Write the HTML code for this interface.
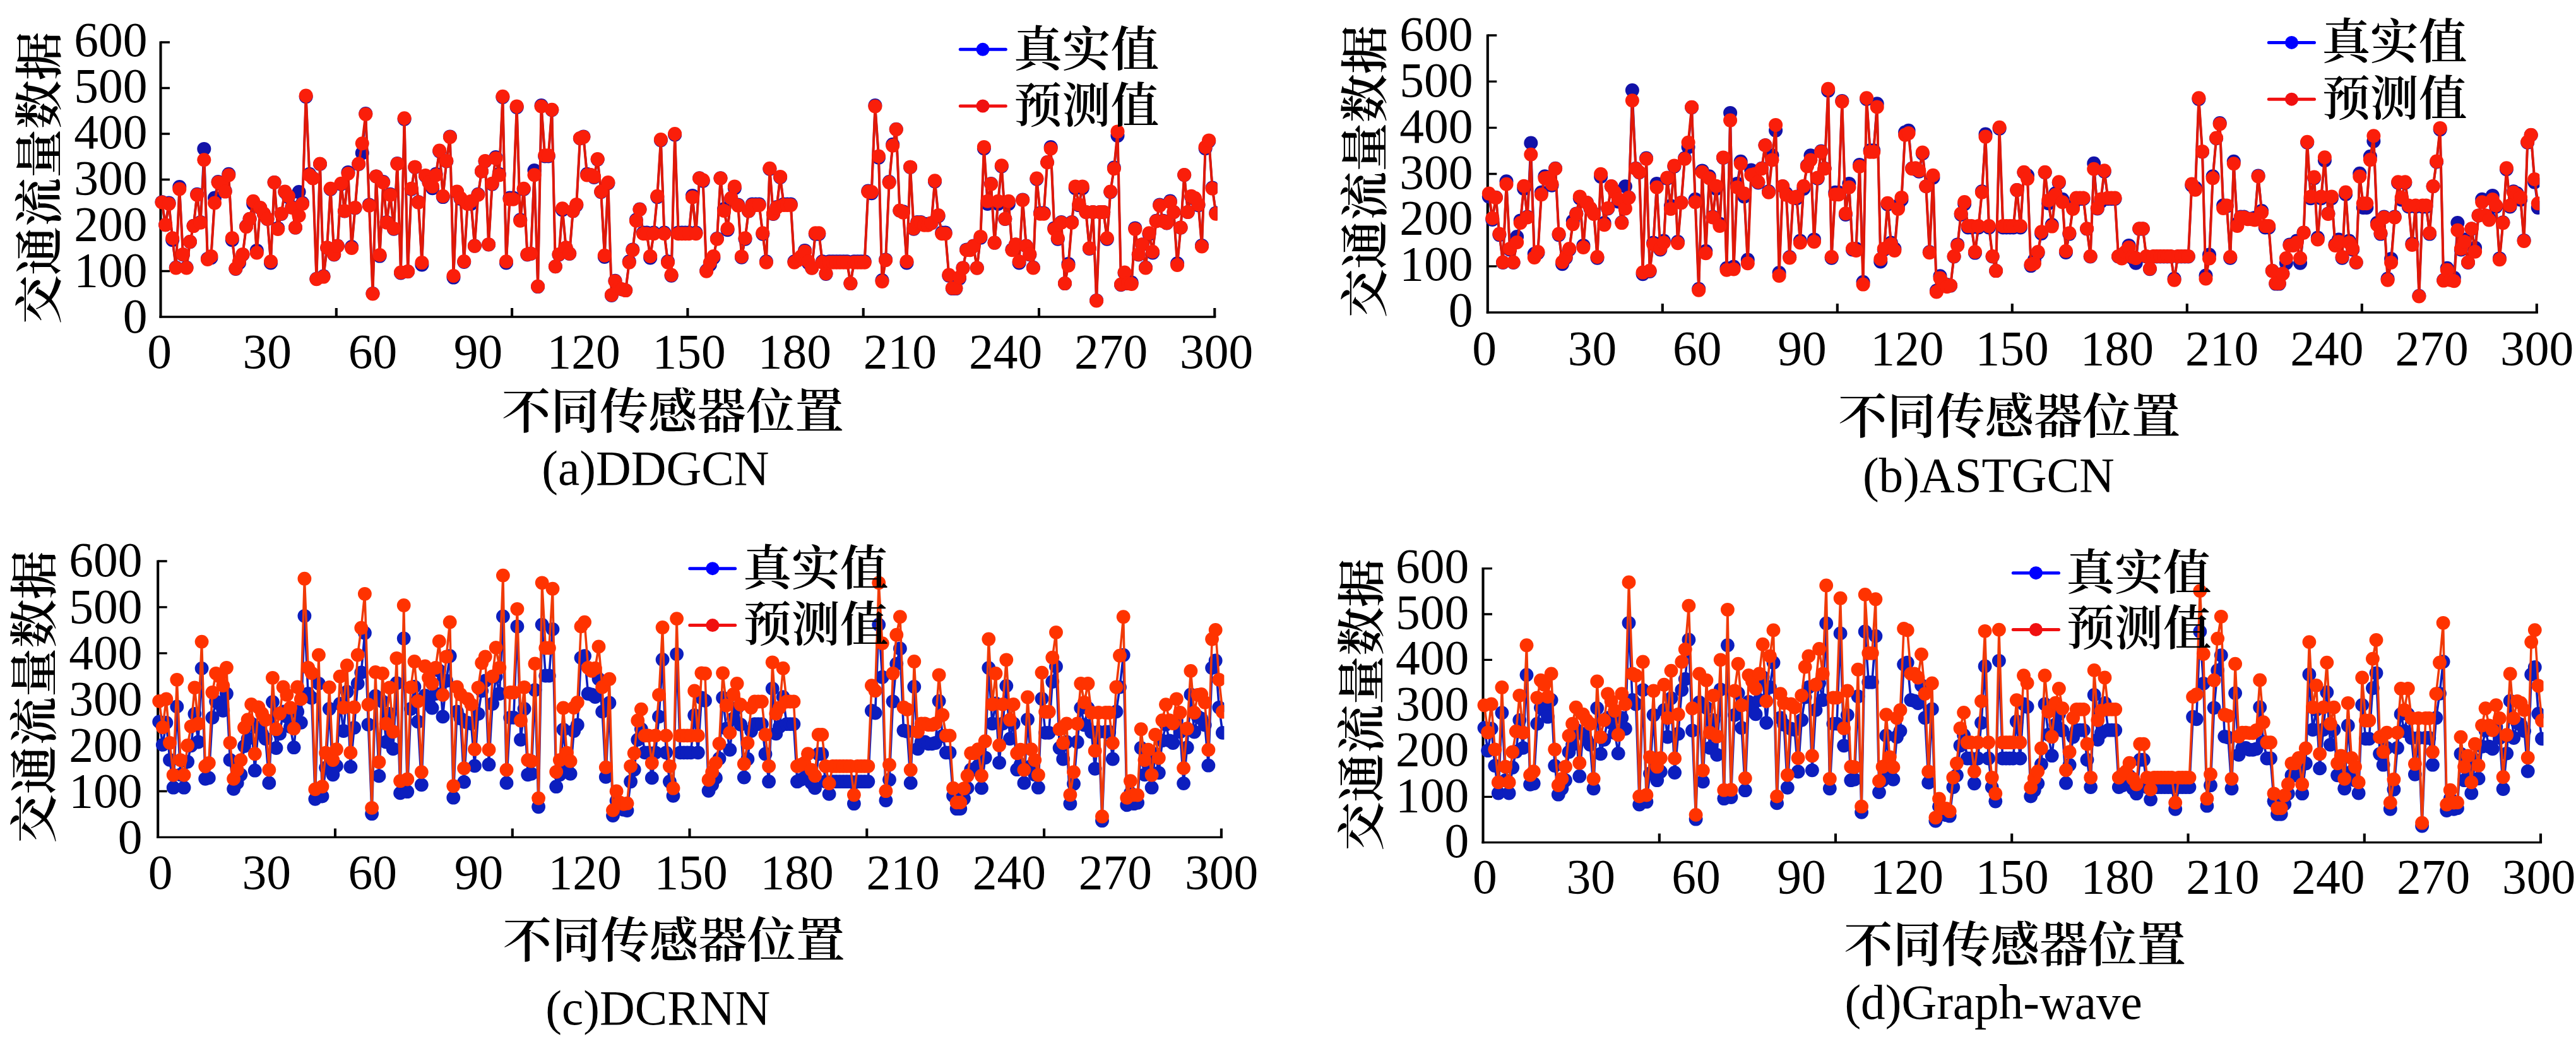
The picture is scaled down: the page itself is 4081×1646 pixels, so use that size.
<!DOCTYPE html>
<html lang="zh"><head><meta charset="utf-8"><title>交通流量数据 预测对比</title>
<style>html,body{margin:0;padding:0;background:#fff}body{width:4081px;height:1646px;overflow:hidden}svg{display:block}text{font-family:"Liberation Serif","Noto Serif CJK SC",serif;font-size:77.2px;fill:#000}.c{font-family:"Liberation Serif","Noto Serif CJK SC",serif;font-weight:600}.n{font-size:77.5px}.t{font-size:77.4px}.l{font-size:76.7px}</style></head><body>
<svg width="4081" height="1646" viewBox="0 0 4081 1646">
<rect width="4081" height="1646" fill="#fff"/>
<defs>
<marker id="mbA" markerUnits="userSpaceOnUse" markerWidth="24" markerHeight="24" refX="12" refY="12"><circle cx="12" cy="12" r="11" fill="#1212A8"/></marker>
<marker id="mrA" markerUnits="userSpaceOnUse" markerWidth="24" markerHeight="24" refX="12" refY="12"><circle cx="12" cy="12" r="11" fill="#FA1E0A"/></marker>
<marker id="mbC" markerUnits="userSpaceOnUse" markerWidth="23.8" markerHeight="23.8" refX="11.9" refY="11.9"><circle cx="11.9" cy="11.9" r="10.9" fill="#0C1EBE"/></marker>
<marker id="mrC" markerUnits="userSpaceOnUse" markerWidth="23.8" markerHeight="23.8" refX="11.9" refY="11.9"><circle cx="11.9" cy="11.9" r="10.9" fill="#FF3300"/></marker>
<clipPath id="cpa"><rect x="234.5" y="7" width="1694.3" height="495"/></clipPath>
<clipPath id="cpb"><rect x="2336.8" y="-4" width="1686.5" height="499"/></clipPath>
<clipPath id="cpc"><rect x="230.2" y="829" width="1709.2" height="497.4"/></clipPath>
<clipPath id="cpd"><rect x="2329.5" y="840.7" width="1700" height="493.9"/></clipPath>
</defs>
<g id="panel-a">
<path d="M254.5,65.4 V503.6 M532.8,502.0 v-14 M811.1,502.0 v-14 M1089.4,502.0 v-14 M1367.7,502.0 v-14 M1646.0,502.0 v-14 M1924.3,502.0 v-14" fill="none" stroke="#000" stroke-width="4.1"/>
<path d="M252.4,502.0 H1926.3 M254.5,429.5 h14.5 M254.5,357.0 h14.5 M254.5,284.5 h14.5 M254.5,212.0 h14.5 M254.5,139.5 h14.5 M254.5,67.0 h14.5" fill="none" stroke="#000" stroke-width="3.3"/>
<g clip-path="url(#cpa)" fill="none" stroke-linejoin="round">
<polyline points="256.5,320.0 262.1,356.3 267.6,321.5 273.2,380.2 278.8,423.7 284.3,296.1 289.9,403.4 295.5,423.7 301.0,383.1 306.6,357.7 312.2,307.7 317.7,351.9 323.3,235.9 328.9,409.9 334.4,408.5 340.0,313.5 345.6,288.1 351.1,291.8 356.7,302.6 362.3,275.8 367.8,380.2 373.4,425.9 379.0,416.4 384.5,403.4 390.1,358.5 395.6,346.9 401.2,322.9 406.8,396.9 412.3,329.5 417.9,338.9 423.5,346.9 429.0,416.4 434.6,288.9 440.2,361.4 445.7,338.9 451.3,304.1 456.9,312.1 462.4,328.0 468.0,360.6 473.6,304.1 479.1,321.5 484.7,153.3 490.3,275.8 495.8,282.3 501.4,441.8 507.0,259.9 512.5,437.5 518.1,392.5 523.7,299.7 529.2,403.4 534.8,389.6 540.4,291.8 545.9,334.5 551.5,272.9 557.1,391.1 562.6,329.5 568.2,259.9 573.8,242.4 579.3,180.1 584.9,324.4 590.5,465.0 596.0,279.4 601.6,405.6 607.2,288.1 612.7,351.9 618.3,307.7 623.9,362.8 629.4,259.1 635.0,432.4 640.6,188.8 646.1,430.2 651.7,299.7 657.3,264.9 662.8,320.0 668.4,419.4 674.0,278.7 679.5,288.9 685.1,298.3 690.6,275.8 696.2,239.6 701.8,312.1 707.3,255.5 712.9,216.4 718.5,439.6 724.0,304.1 729.6,315.0 735.2,415.0 740.7,321.5 746.3,322.9 751.9,389.6 757.4,307.7 763.0,271.5 768.6,255.5 774.1,387.4 779.7,291.8 785.3,249.0 790.8,275.8 796.4,154.0 802.0,416.4 807.5,313.5 813.1,313.5 818.7,169.9 824.2,348.3 829.8,299.7 835.4,403.4 840.9,401.9 846.5,270.0 852.1,454.1 857.6,167.1 863.2,247.5 868.8,247.5 874.3,174.3 879.9,422.2 885.5,403.4 891.0,332.4 896.6,392.5 902.2,401.9 907.7,334.5 913.3,325.1 918.9,219.2 924.4,216.4 930.0,275.8 935.6,277.2 941.1,280.9 946.7,252.6 952.2,304.1 957.8,407.0 963.4,290.3 968.9,467.9 974.5,444.7 980.1,457.1 985.6,458.5 991.2,459.9 996.8,414.3 1002.3,395.4 1007.9,348.3 1013.5,331.6 1019.0,368.6 1024.6,368.6 1030.2,408.5 1035.7,368.6 1041.3,312.1 1046.9,222.2 1052.4,368.6 1058.0,414.3 1063.6,436.8 1069.1,213.4 1074.7,368.6 1080.3,368.6 1085.8,368.6 1091.4,368.6 1097.0,309.9 1102.5,368.6 1108.1,282.3 1113.7,286.7 1119.2,428.8 1124.8,419.4 1130.4,408.5 1135.9,378.0 1141.5,282.3 1147.1,330.9 1152.6,364.2 1158.2,315.0 1163.8,298.3 1169.3,324.4 1174.9,407.8 1180.5,378.8 1186.0,334.5 1191.6,323.6 1197.2,323.6 1202.7,323.6 1208.3,370.8 1213.9,414.3 1219.4,267.8 1225.0,338.9 1230.5,328.0 1236.1,280.9 1241.7,323.6 1247.2,323.6 1252.8,323.6 1258.4,414.3 1263.9,411.4 1269.5,408.5 1275.1,396.9 1280.6,416.4 1286.2,424.4 1291.8,370.8 1297.3,370.8 1302.9,414.3 1308.5,433.9 1314.0,414.3 1319.6,414.3 1325.2,414.3 1330.7,414.3 1336.3,414.3 1341.9,414.3 1347.4,449.1 1353.0,414.3 1358.6,414.3 1364.1,414.3 1369.7,414.3 1375.3,302.6 1380.8,306.2 1386.4,167.1 1392.0,249.7 1397.5,444.0 1403.1,411.4 1408.7,288.1 1414.2,228.7 1419.8,204.8 1425.4,333.8 1430.9,335.2 1436.5,416.4 1442.1,264.9 1447.6,362.8 1453.2,351.9 1458.8,351.9 1464.3,354.8 1469.9,354.8 1475.5,353.4 1481.0,287.4 1486.6,342.5 1492.2,368.6 1497.7,368.6 1503.3,436.8 1508.8,457.1 1514.4,457.1 1520.0,441.1 1525.5,424.4 1531.1,395.4 1536.7,395.4 1542.2,389.6 1547.8,424.4 1553.4,376.6 1558.9,235.2 1564.5,322.9 1570.1,291.0 1575.6,384.6 1581.2,322.9 1586.8,263.5 1592.3,346.9 1597.9,322.9 1603.5,395.4 1609.0,387.4 1614.6,416.4 1620.2,316.4 1625.7,389.6 1631.3,403.4 1636.9,423.7 1642.4,283.8 1648.0,337.4 1653.6,337.4 1659.1,257.0 1664.7,233.0 1670.3,361.4 1675.8,378.8 1681.4,351.9 1687.0,449.1 1692.5,417.9 1698.1,351.9 1703.7,298.3 1709.2,325.1 1714.8,298.3 1720.4,336.0 1725.9,394.0 1731.5,336.0 1737.1,475.9 1742.6,336.0 1748.2,336.0 1753.8,378.8 1759.3,304.1 1764.9,265.6 1770.5,214.9 1776.0,451.2 1781.6,432.4 1787.1,449.1 1792.7,447.6 1798.3,361.4 1803.8,403.4 1809.4,387.4 1815.0,423.7 1820.5,370.8 1826.1,400.5 1831.7,349.8 1837.2,324.4 1842.8,349.8 1848.4,353.4 1853.9,318.6 1859.5,336.0 1865.1,417.2 1870.6,360.6 1876.2,277.2 1881.8,336.0 1887.3,312.1 1892.9,315.0 1898.5,325.1 1904.0,388.9 1909.6,235.2 1915.2,223.6 1920.7,297.6 1926.3,337.4" stroke="#1212A8" stroke-width="3.5" marker-start="url(#mbA)" marker-mid="url(#mbA)" marker-end="url(#mbA)"/>
<polyline points="256.5,320.6 262.1,356.3 267.6,323.0 273.2,377.3 278.8,424.5 284.3,299.4 289.9,402.9 295.5,424.5 301.0,383.0 306.6,358.1 312.2,308.8 317.7,352.7 323.3,253.3 328.9,411.0 334.4,405.9 340.0,321.5 345.6,289.1 351.1,290.7 356.7,303.6 362.3,277.5 367.8,377.3 373.4,425.5 379.0,414.3 384.5,402.9 390.1,359.1 395.6,346.7 401.2,318.7 406.8,400.5 412.3,329.0 417.9,338.4 423.5,346.7 429.0,414.3 434.6,289.0 440.2,362.9 445.7,338.4 451.3,303.5 456.9,310.8 462.4,329.0 468.0,360.4 473.6,341.8 479.1,323.0 484.7,151.6 490.3,277.5 495.8,282.4 501.4,442.2 507.0,259.5 512.5,438.6 518.1,392.2 523.7,298.7 529.2,402.9 534.8,389.8 540.4,290.7 545.9,334.3 551.5,274.9 557.1,392.9 562.6,329.0 568.2,259.5 573.8,227.2 579.3,180.9 584.9,325.6 590.5,465.4 596.0,279.4 601.6,404.0 607.2,289.1 612.7,352.7 618.3,308.8 623.9,361.9 629.4,259.4 635.0,431.6 640.6,187.2 646.1,430.1 651.7,298.7 657.3,264.4 662.8,320.6 668.4,416.1 674.0,277.9 679.5,289.0 685.1,295.4 690.6,277.5 696.2,238.6 701.8,310.8 707.3,254.9 712.9,217.1 718.5,437.0 724.0,303.5 729.6,313.8 735.2,414.1 740.7,323.0 746.3,318.7 751.9,389.8 757.4,308.8 763.0,271.4 768.6,254.9 774.1,387.3 779.7,290.7 785.3,250.7 790.8,277.5 796.4,152.8 802.0,414.3 807.5,315.7 813.1,315.7 818.7,168.4 824.2,349.8 829.8,298.7 835.4,402.9 840.9,401.7 846.5,277.2 852.1,453.8 857.6,168.5 863.2,246.2 868.8,246.2 874.3,173.8 879.9,422.3 885.5,402.9 891.0,330.2 896.6,392.2 902.2,401.7 907.7,334.3 913.3,323.9 918.9,218.9 924.4,217.1 930.0,277.5 935.6,277.0 941.1,279.9 946.7,252.0 952.2,303.5 957.8,404.7 963.4,289.1 968.9,467.3 974.5,445.5 980.1,456.4 985.6,458.2 991.2,460.1 996.8,415.8 1002.3,396.3 1007.9,349.8 1013.5,331.9 1019.0,370.2 1024.6,370.2 1030.2,405.9 1035.7,370.2 1041.3,310.8 1046.9,221.1 1052.4,370.2 1058.0,415.8 1063.6,435.6 1069.1,212.0 1074.7,370.2 1080.3,370.2 1085.8,370.2 1091.4,370.2 1097.0,312.5 1102.5,370.2 1108.1,282.4 1113.7,285.3 1119.2,429.8 1124.8,416.1 1130.4,405.9 1135.9,378.8 1141.5,282.4 1147.1,333.9 1152.6,362.2 1158.2,313.8 1163.8,295.4 1169.3,325.6 1174.9,406.4 1180.5,377.3 1186.0,334.3 1191.6,324.9 1197.2,324.9 1202.7,324.9 1208.3,369.3 1213.9,415.8 1219.4,266.7 1225.0,338.4 1230.5,329.0 1236.1,279.9 1241.7,324.9 1247.2,324.9 1252.8,324.9 1258.4,415.8 1263.9,412.3 1269.5,405.9 1275.1,398.4 1280.6,414.3 1286.2,424.6 1291.8,369.3 1297.3,369.3 1302.9,415.8 1308.5,433.3 1314.0,415.8 1319.6,415.8 1325.2,415.8 1330.7,415.8 1336.3,415.8 1341.9,415.8 1347.4,448.9 1353.0,415.8 1358.6,415.8 1364.1,415.8 1369.7,415.8 1375.3,303.6 1380.8,304.1 1386.4,168.5 1392.0,247.5 1397.5,445.9 1403.1,412.3 1408.7,289.1 1414.2,230.7 1419.8,205.0 1425.4,333.5 1430.9,336.6 1436.5,414.3 1442.1,264.4 1447.6,361.9 1453.2,352.7 1458.8,352.7 1464.3,356.7 1469.9,356.7 1475.5,353.2 1481.0,286.2 1486.6,341.1 1492.2,370.2 1497.7,370.2 1503.3,435.6 1508.8,456.4 1514.4,456.4 1520.0,439.3 1525.5,424.6 1531.1,396.3 1536.7,396.3 1542.2,389.8 1547.8,424.6 1553.4,374.9 1558.9,232.9 1564.5,318.7 1570.1,291.6 1575.6,384.6 1581.2,318.7 1586.8,262.3 1592.3,346.7 1597.9,318.7 1603.5,396.3 1609.0,387.3 1614.6,414.3 1620.2,316.9 1625.7,389.8 1631.3,402.9 1636.9,424.5 1642.4,282.5 1648.0,338.8 1653.6,338.8 1659.1,257.3 1664.7,235.4 1670.3,362.9 1675.8,377.3 1681.4,352.7 1687.0,448.9 1692.5,420.7 1698.1,352.7 1703.7,295.4 1709.2,323.9 1714.8,295.4 1720.4,336.0 1725.9,393.3 1731.5,336.0 1737.1,476.5 1742.6,336.0 1748.2,336.0 1753.8,377.3 1759.3,303.5 1764.9,267.3 1770.5,208.4 1776.0,450.6 1781.6,431.6 1787.1,448.9 1792.7,449.9 1798.3,362.9 1803.8,402.9 1809.4,387.3 1815.0,424.5 1820.5,369.3 1826.1,398.7 1831.7,350.4 1837.2,325.6 1842.8,350.4 1848.4,353.2 1853.9,320.3 1859.5,336.0 1865.1,419.9 1870.6,360.4 1876.2,277.0 1881.8,336.0 1887.3,310.8 1892.9,313.8 1898.5,323.9 1904.0,390.5 1909.6,232.9 1915.2,222.4 1920.7,298.8 1926.3,338.8" stroke="#E01808" stroke-width="4" marker-start="url(#mrA)" marker-mid="url(#mrA)" marker-end="url(#mrA)"/>
</g>
<text class="n" x="233.6" y="527.1" text-anchor="end">0</text>
<text class="n" x="233.6" y="454.1" text-anchor="end">100</text>
<text class="n" x="233.6" y="381.2" text-anchor="end">200</text>
<text class="n" x="233.6" y="308.2" text-anchor="end">300</text>
<text class="n" x="233.6" y="235.3" text-anchor="end">400</text>
<text class="n" x="233.6" y="162.3" text-anchor="end">500</text>
<text class="n" x="233.6" y="89.4" text-anchor="end">600</text>
<text class="n" x="252.7" y="582.7" text-anchor="middle">0</text>
<text class="n" x="423.3" y="582.7" text-anchor="middle">30</text>
<text class="n" x="590.4" y="582.7" text-anchor="middle">60</text>
<text class="n" x="757.5" y="582.7" text-anchor="middle">90</text>
<text class="n" x="924.6" y="582.7" text-anchor="middle">120</text>
<text class="n" x="1091.7" y="582.7" text-anchor="middle">150</text>
<text class="n" x="1258.8" y="582.7" text-anchor="middle">180</text>
<text class="n" x="1425.9" y="582.7" text-anchor="middle">210</text>
<text class="n" x="1593.0" y="582.7" text-anchor="middle">240</text>
<text class="n" x="1760.1" y="582.7" text-anchor="middle">270</text>
<text class="n" x="1927.2" y="582.7" text-anchor="middle">300</text>
<text class="c" transform="translate(63.5,281.7) rotate(-90)" text-anchor="middle" y="26">交通流量数据</text>
<text class="c t" x="1065.8" y="678.8" text-anchor="middle">不同传感器位置</text>
<text x="858.3" y="768.3">(a)DDGCN</text>
<path d="M1521.3,78.3 H1593.3" stroke="#0000FF" stroke-width="5" stroke-linecap="round"/><circle cx="1557.0" cy="78.3" r="10.5" fill="#0000FF"/>
<path d="M1521.3,168.0 H1593.3" stroke="#F01010" stroke-width="5" stroke-linecap="round"/><circle cx="1557.0" cy="168.0" r="10.5" fill="#F01010"/>
<text class="c l" x="1606.0" y="105.0">真实值</text>
<text class="c l" x="1606.0" y="194.0">预测值</text>
</g>
<g id="panel-b">
<path d="M2356.8,54.4 V496.6 M2633.8,495.0 v-14 M2910.8,495.0 v-14 M3187.8,495.0 v-14 M3464.8,495.0 v-14 M3741.8,495.0 v-14 M4018.8,495.0 v-14" fill="none" stroke="#000" stroke-width="4.1"/>
<path d="M2354.8,495.0 H4020.9 M2356.8,421.8 h14.5 M2356.8,348.7 h14.5 M2356.8,275.5 h14.5 M2356.8,202.3 h14.5 M2356.8,129.2 h14.5 M2356.8,56.0 h14.5" fill="none" stroke="#000" stroke-width="3.3"/>
<g clip-path="url(#cpb)" fill="none" stroke-linejoin="round">
<polyline points="2358.8,311.4 2364.3,347.9 2369.9,312.8 2375.4,372.1 2381.0,416.0 2386.5,287.2 2392.0,395.5 2397.6,416.0 2403.1,375.0 2408.7,349.4 2414.2,298.9 2419.7,343.5 2425.3,226.5 2430.8,402.1 2436.4,400.6 2441.9,304.8 2447.4,279.2 2453.0,282.8 2458.5,293.8 2464.1,266.7 2469.6,372.1 2475.1,418.2 2480.7,408.7 2486.2,395.5 2491.8,350.1 2497.3,338.4 2502.8,314.3 2508.4,388.9 2513.9,320.9 2519.5,330.4 2525.0,338.4 2530.5,408.7 2536.1,279.9 2541.6,353.1 2547.2,330.4 2552.7,295.3 2558.2,303.3 2563.8,319.4 2569.3,352.3 2574.9,295.3 2580.4,312.8 2585.9,143.1 2591.5,266.7 2597.0,273.3 2602.6,434.3 2608.1,250.6 2613.6,429.9 2619.2,384.5 2624.7,290.9 2630.3,395.5 2635.8,381.6 2641.3,282.8 2646.9,326.0 2652.4,263.8 2658.0,383.1 2663.5,320.9 2669.0,250.6 2674.6,233.1 2680.1,170.1 2685.7,315.7 2691.2,457.7 2696.7,270.4 2702.3,397.7 2707.8,279.2 2713.4,343.5 2718.9,298.9 2724.4,354.5 2730.0,249.9 2735.5,424.8 2741.1,178.9 2746.6,422.6 2752.1,290.9 2757.7,255.7 2763.2,311.4 2768.8,411.6 2774.3,269.6 2779.8,279.9 2785.4,289.4 2790.9,266.7 2796.5,230.1 2802.0,303.3 2807.5,246.2 2813.1,206.7 2818.6,432.1 2824.2,295.3 2829.7,306.2 2835.2,407.2 2840.8,312.8 2846.3,314.3 2851.9,381.6 2857.4,298.9 2862.9,262.3 2868.5,246.2 2874.0,379.4 2879.6,282.8 2885.1,239.6 2890.6,266.7 2896.2,143.8 2901.7,408.7 2907.3,304.8 2912.8,304.8 2918.3,159.9 2923.9,339.9 2929.4,290.9 2935.0,395.5 2940.5,394.0 2946.0,260.9 2951.6,446.7 2957.1,157.0 2962.7,238.2 2968.2,238.2 2973.7,164.3 2979.3,414.5 2984.8,395.5 2990.4,323.8 2995.9,384.5 3001.4,394.0 3007.0,326.0 3012.5,316.5 3018.1,209.6 3023.6,206.7 3029.1,266.7 3034.7,268.2 3040.2,271.8 3045.8,243.3 3051.3,295.3 3056.8,399.2 3062.4,281.4 3067.9,460.6 3073.5,437.2 3079.0,449.6 3084.5,451.1 3090.1,452.6 3095.6,406.5 3101.2,387.4 3106.7,339.9 3112.2,323.1 3117.8,360.4 3123.3,360.4 3128.9,400.6 3134.4,360.4 3139.9,303.3 3145.5,212.6 3151.0,360.4 3156.6,406.5 3162.1,429.1 3167.6,203.8 3173.2,360.4 3178.7,360.4 3184.3,360.4 3189.8,360.4 3195.3,301.1 3200.9,360.4 3206.4,273.3 3212.0,277.7 3217.5,421.1 3223.0,411.6 3228.6,400.6 3234.1,369.9 3239.7,273.3 3245.2,322.3 3250.7,356.0 3256.3,306.2 3261.8,289.4 3267.4,315.7 3272.9,399.9 3278.4,370.6 3284.0,326.0 3289.5,315.0 3295.1,315.0 3300.6,315.0 3306.1,362.6 3311.7,406.5 3317.2,258.7 3322.8,330.4 3328.3,319.4 3333.8,271.8 3339.4,315.0 3344.9,315.0 3350.5,315.0 3356.0,406.5 3361.5,403.5 3367.1,400.6 3372.6,388.9 3378.2,408.7 3383.7,416.7 3389.2,362.6 3394.8,362.6 3400.3,406.5 3405.9,426.2 3411.4,406.5 3416.9,406.5 3422.5,406.5 3428.0,406.5 3433.6,406.5 3439.1,406.5 3444.6,441.6 3450.2,406.5 3455.7,406.5 3461.3,406.5 3466.8,406.5 3472.3,293.8 3477.9,297.4 3483.4,157.0 3489.0,240.4 3494.5,436.5 3500.0,403.5 3505.6,279.2 3511.1,219.2 3516.7,195.0 3522.2,325.3 3527.7,326.7 3533.3,408.7 3538.8,255.7 3544.4,354.5 3549.9,343.5 3555.4,343.5 3561.0,346.5 3566.5,346.5 3572.1,345.0 3577.6,278.4 3583.1,334.0 3588.7,360.4 3594.2,360.4 3599.8,429.1 3605.3,449.6 3610.8,449.6 3616.4,433.5 3621.9,416.7 3627.5,387.4 3633.0,387.4 3638.5,381.6 3644.1,416.7 3649.6,368.4 3655.2,225.7 3660.7,314.3 3666.2,282.1 3671.8,376.5 3677.3,314.3 3682.9,254.3 3688.4,338.4 3693.9,314.3 3699.5,387.4 3705.0,379.4 3710.6,408.7 3716.1,307.7 3721.6,381.6 3727.2,395.5 3732.7,416.0 3738.3,274.8 3743.8,328.9 3749.3,328.9 3754.9,247.7 3760.4,223.6 3766.0,353.1 3771.5,370.6 3777.0,343.5 3782.6,441.6 3788.1,410.1 3793.7,343.5 3799.2,289.4 3804.7,316.5 3810.3,289.4 3815.8,327.4 3821.4,386.0 3826.9,327.4 3832.4,468.7 3838.0,327.4 3843.5,327.4 3849.1,370.6 3854.6,295.3 3860.1,256.5 3865.7,205.3 3871.2,443.8 3876.8,424.8 3882.3,441.6 3887.8,440.1 3893.4,353.1 3898.9,395.5 3904.5,379.4 3910.0,416.0 3915.5,362.6 3921.1,392.6 3926.6,341.4 3932.2,315.7 3937.7,341.4 3943.2,345.0 3948.8,309.9 3954.3,327.4 3959.9,409.4 3965.4,352.3 3970.9,268.2 3976.5,327.4 3982.0,303.3 3987.6,306.2 3993.1,316.5 3998.6,380.9 4004.2,225.7 4009.7,214.0 4015.3,288.7 4020.8,328.9" stroke="#1212A8" stroke-width="3.5" marker-start="url(#mbA)" marker-mid="url(#mbA)" marker-end="url(#mbA)"/>
<polyline points="2358.8,306.6 2364.3,345.8 2369.9,313.1 2375.4,370.6 2381.0,415.5 2386.5,291.8 2392.0,394.0 2397.6,415.5 2403.1,383.9 2408.7,353.0 2414.2,294.7 2419.7,344.4 2425.3,244.8 2430.8,407.9 2436.4,399.1 2441.9,308.3 2447.4,282.2 2453.0,281.4 2458.5,291.5 2464.1,267.3 2469.6,370.6 2475.1,415.1 2480.7,407.0 2486.2,394.0 2491.8,355.1 2497.3,338.9 2502.8,311.4 2508.4,391.9 2513.9,321.1 2519.5,329.7 2525.0,338.9 2530.5,407.0 2536.1,275.7 2541.6,356.3 2547.2,329.7 2552.7,295.1 2558.2,304.7 2563.8,315.4 2569.3,353.1 2574.9,330.4 2580.4,313.1 2585.9,159.2 2591.5,267.3 2597.0,272.8 2602.6,431.6 2608.1,251.7 2613.6,428.8 2619.2,386.9 2624.7,296.7 2630.3,394.0 2635.8,384.5 2641.3,281.4 2646.9,330.9 2652.4,262.4 2658.0,385.2 2663.5,321.1 2669.0,251.7 2674.6,225.7 2680.1,169.8 2685.7,320.2 2691.2,459.8 2696.7,272.8 2702.3,401.2 2707.8,282.2 2713.4,344.4 2718.9,294.7 2724.4,358.0 2730.0,249.4 2735.5,427.7 2741.1,190.6 2746.6,426.4 2752.1,296.7 2757.7,259.3 2763.2,306.6 2768.8,417.3 2774.3,277.1 2779.8,275.7 2785.4,288.2 2790.9,267.3 2796.5,230.2 2802.0,304.7 2807.5,253.4 2813.1,197.9 2818.6,436.9 2824.2,295.1 2829.7,308.7 2835.2,408.4 2840.8,313.1 2846.3,311.4 2851.9,384.5 2857.4,294.7 2862.9,263.4 2868.5,253.4 2874.0,382.9 2879.6,281.4 2885.1,240.4 2890.6,267.3 2896.2,140.7 2901.7,407.0 2907.3,308.3 2912.8,308.3 2918.3,161.0 2923.9,338.2 2929.4,296.7 2935.0,394.0 2940.5,396.9 2946.0,263.7 2951.6,450.6 2957.1,155.2 2962.7,240.7 2968.2,240.7 2973.7,169.4 2979.3,410.5 2984.8,394.0 2990.4,321.7 2995.9,386.9 3001.4,396.9 3007.0,330.9 3012.5,312.9 3018.1,213.8 3023.6,211.1 3029.1,267.3 3034.7,266.3 3040.2,270.3 3045.8,241.5 3051.3,295.1 3056.8,400.2 3062.4,277.8 3067.9,462.5 3073.5,440.5 3079.0,448.7 3084.5,454.2 3090.1,452.2 3095.6,406.0 3101.2,388.9 3106.7,338.2 3112.2,320.1 3117.8,358.1 3123.3,358.1 3128.9,399.1 3134.4,358.1 3139.9,304.7 3145.5,216.6 3151.0,358.1 3156.6,406.0 3162.1,429.1 3167.6,201.8 3173.2,358.1 3178.7,358.1 3184.3,358.1 3189.8,358.1 3195.3,301.0 3200.9,358.1 3206.4,272.8 3212.0,283.3 3217.5,419.0 3223.0,417.3 3228.6,399.1 3234.1,367.3 3239.7,272.8 3245.2,317.4 3250.7,358.6 3256.3,308.7 3261.8,288.2 3267.4,320.2 3272.9,397.8 3278.4,369.3 3284.0,330.9 3289.5,313.6 3295.1,313.6 3300.6,313.6 3306.1,362.2 3311.7,406.0 3317.2,267.7 3322.8,329.7 3328.3,315.4 3333.8,270.3 3339.4,313.6 3344.9,313.6 3350.5,313.6 3356.0,406.0 3361.5,409.5 3367.1,399.1 3372.6,391.9 3378.2,407.0 3383.7,409.0 3389.2,362.2 3394.8,362.2 3400.3,406.0 3405.9,425.6 3411.4,406.0 3416.9,406.0 3422.5,406.0 3428.0,406.0 3433.6,406.0 3439.1,406.0 3444.6,443.7 3450.2,406.0 3455.7,406.0 3461.3,406.0 3466.8,406.0 3472.3,291.5 3477.9,300.8 3483.4,155.2 3489.0,240.1 3494.5,441.5 3500.0,409.5 3505.6,282.2 3511.1,218.6 3516.7,196.5 3522.2,329.9 3527.7,325.4 3533.3,407.0 3538.8,259.3 3544.4,358.0 3549.9,344.4 3555.4,344.4 3561.0,347.3 3566.5,347.3 3572.1,348.4 3577.6,279.4 3583.1,336.8 3588.7,358.1 3594.2,358.1 3599.8,429.1 3605.3,448.7 3610.8,448.7 3616.4,433.7 3621.9,409.0 3627.5,388.9 3633.0,388.9 3638.5,384.5 3644.1,409.0 3649.6,368.6 3655.2,224.8 3660.7,311.4 3666.2,280.6 3671.8,379.5 3677.3,311.4 3682.9,249.2 3688.4,338.9 3693.9,311.4 3699.5,388.9 3705.0,382.9 3710.6,407.0 3716.1,304.6 3721.6,384.5 3727.2,394.0 3732.7,415.5 3738.3,279.6 3743.8,322.2 3749.3,322.2 3754.9,253.1 3760.4,215.3 3766.0,356.3 3771.5,369.3 3777.0,344.4 3782.6,443.7 3788.1,416.0 3793.7,344.4 3799.2,288.2 3804.7,312.9 3810.3,288.2 3815.8,325.5 3821.4,387.9 3826.9,325.5 3832.4,469.5 3838.0,325.5 3843.5,325.5 3849.1,369.3 3854.6,295.1 3860.1,255.6 3865.7,202.9 3871.2,444.6 3876.8,427.7 3882.3,443.7 3887.8,445.3 3893.4,364.8 3898.9,394.0 3904.5,382.9 3910.0,415.5 3915.5,362.2 3921.1,398.7 3926.6,341.4 3932.2,320.2 3937.7,341.4 3943.2,348.4 3948.8,316.0 3954.3,325.5 3959.9,411.2 3965.4,353.1 3970.9,266.3 3976.5,325.5 3982.0,304.7 3987.6,308.7 3993.1,312.9 3998.6,382.0 4004.2,224.8 4009.7,213.8 4015.3,284.0 4020.8,322.2" stroke="#E01808" stroke-width="4" marker-start="url(#mrA)" marker-mid="url(#mrA)" marker-end="url(#mrA)"/>
</g>
<text class="n" x="2333.6" y="516.9" text-anchor="end">0</text>
<text class="n" x="2333.6" y="444.1" text-anchor="end">100</text>
<text class="n" x="2333.6" y="371.3" text-anchor="end">200</text>
<text class="n" x="2333.6" y="298.5" text-anchor="end">300</text>
<text class="n" x="2333.6" y="225.8" text-anchor="end">400</text>
<text class="n" x="2333.6" y="153.0" text-anchor="end">500</text>
<text class="n" x="2333.6" y="80.2" text-anchor="end">600</text>
<text class="n" x="2351.7" y="577.9" text-anchor="middle">0</text>
<text class="n" x="2522.5" y="577.9" text-anchor="middle">30</text>
<text class="n" x="2688.8" y="577.9" text-anchor="middle">60</text>
<text class="n" x="2855.1" y="577.9" text-anchor="middle">90</text>
<text class="n" x="3021.3" y="577.9" text-anchor="middle">120</text>
<text class="n" x="3187.6" y="577.9" text-anchor="middle">150</text>
<text class="n" x="3353.9" y="577.9" text-anchor="middle">180</text>
<text class="n" x="3520.2" y="577.9" text-anchor="middle">210</text>
<text class="n" x="3686.4" y="577.9" text-anchor="middle">240</text>
<text class="n" x="3852.7" y="577.9" text-anchor="middle">270</text>
<text class="n" x="4019.0" y="577.9" text-anchor="middle">300</text>
<text class="c" transform="translate(2163.5,271.7) rotate(-90)" text-anchor="middle" y="26">交通流量数据</text>
<text class="c t" x="3183.2" y="686.6" text-anchor="middle">不同传感器位置</text>
<text x="2950.9" y="779.0">(b)ASTGCN</text>
<path d="M3594.3,67.4 H3666.5" stroke="#0000FF" stroke-width="5" stroke-linecap="round"/><circle cx="3630.5" cy="67.4" r="10.5" fill="#0000FF"/>
<path d="M3594.3,157.2 H3666.5" stroke="#F01010" stroke-width="5" stroke-linecap="round"/><circle cx="3630.5" cy="157.2" r="10.5" fill="#F01010"/>
<text class="c l" x="3678.4" y="93.0">真实值</text>
<text class="c l" x="3678.4" y="183.0">预测值</text>
</g>
<g id="panel-c">
<path d="M250.2,887.4 V1328.0 M531.0,1326.4 v-14 M811.8,1326.4 v-14 M1092.5,1326.4 v-14 M1373.3,1326.4 v-14 M1654.1,1326.4 v-14 M1934.9,1326.4 v-14" fill="none" stroke="#000" stroke-width="4.1"/>
<path d="M248.1,1326.4 H1937.0 M250.2,1253.5 h14.5 M250.2,1180.6 h14.5 M250.2,1107.7 h14.5 M250.2,1034.8 h14.5 M250.2,961.9 h14.5 M250.2,889.0 h14.5" fill="none" stroke="#000" stroke-width="3.3"/>
<g clip-path="url(#cpc)" fill="none" stroke-linejoin="round">
<polyline points="252.2,1143.4 257.8,1179.9 263.4,1144.9 269.0,1203.9 274.7,1247.7 280.3,1119.4 285.9,1227.3 291.5,1247.7 297.1,1206.8 302.7,1181.3 308.4,1131.0 314.0,1175.5 319.6,1058.9 325.2,1233.8 330.8,1232.4 336.4,1136.9 342.1,1111.3 347.7,1115.0 353.3,1125.9 358.9,1099.0 364.5,1203.9 370.1,1249.9 375.7,1240.4 381.4,1227.3 387.0,1182.1 392.6,1170.4 398.2,1146.3 403.8,1220.7 409.4,1152.9 415.1,1162.4 420.7,1170.4 426.3,1240.4 431.9,1112.1 437.5,1185.0 443.1,1162.4 448.7,1127.4 454.4,1135.4 460.0,1151.4 465.6,1184.2 471.2,1127.4 476.8,1144.9 482.4,975.8 488.1,1099.0 493.7,1105.5 499.3,1265.9 504.9,1082.9 510.5,1261.5 516.1,1216.3 521.8,1123.0 527.4,1227.3 533.0,1213.4 538.6,1115.0 544.2,1158.0 549.8,1096.0 555.4,1214.9 561.1,1152.9 566.7,1082.9 572.3,1065.4 577.9,1002.7 583.5,1147.8 589.1,1289.2 594.8,1102.6 600.4,1229.4 606.0,1111.3 611.6,1175.5 617.2,1131.0 622.8,1186.4 628.4,1082.2 634.1,1256.4 639.7,1011.5 645.3,1254.2 650.9,1123.0 656.5,1088.0 662.1,1143.4 667.8,1243.3 673.4,1101.9 679.0,1112.1 684.6,1121.6 690.2,1099.0 695.8,1062.5 701.5,1135.4 707.1,1078.5 712.7,1039.2 718.3,1263.7 723.9,1127.4 729.5,1138.3 735.1,1238.9 740.8,1144.9 746.4,1146.3 752.0,1213.4 757.6,1131.0 763.2,1094.6 768.8,1078.5 774.5,1211.2 780.1,1115.0 785.7,1072.0 791.3,1099.0 796.9,976.5 802.5,1240.4 808.2,1136.9 813.8,1136.9 819.4,992.5 825.0,1171.9 830.6,1123.0 836.2,1227.3 841.8,1225.8 847.5,1093.1 853.1,1278.3 858.7,989.6 864.3,1070.5 869.9,1070.5 875.5,996.9 881.2,1246.2 886.8,1227.3 892.4,1155.8 898.0,1216.3 903.6,1225.8 909.2,1158.0 914.8,1148.5 920.5,1042.1 926.1,1039.2 931.7,1099.0 937.3,1100.4 942.9,1104.1 948.5,1075.6 954.2,1127.4 959.8,1230.9 965.4,1113.5 971.0,1292.1 976.6,1268.8 982.2,1281.2 987.9,1282.7 993.5,1284.1 999.1,1238.2 1004.7,1219.2 1010.3,1171.9 1015.9,1155.1 1021.5,1192.3 1027.2,1192.3 1032.8,1232.4 1038.4,1192.3 1044.0,1135.4 1049.6,1045.0 1055.2,1192.3 1060.9,1238.2 1066.5,1260.8 1072.1,1036.3 1077.7,1192.3 1083.3,1192.3 1088.9,1192.3 1094.5,1192.3 1100.2,1133.2 1105.8,1192.3 1111.4,1105.5 1117.0,1109.9 1122.6,1252.8 1128.2,1243.3 1133.9,1232.4 1139.5,1201.7 1145.1,1105.5 1150.7,1154.4 1156.3,1187.9 1161.9,1138.3 1167.6,1121.6 1173.2,1147.8 1178.8,1231.6 1184.4,1202.5 1190.0,1158.0 1195.6,1147.1 1201.2,1147.1 1206.9,1147.1 1212.5,1194.5 1218.1,1238.2 1223.7,1090.9 1229.3,1162.4 1234.9,1151.4 1240.6,1104.1 1246.2,1147.1 1251.8,1147.1 1257.4,1147.1 1263.0,1238.2 1268.6,1235.3 1274.3,1232.4 1279.9,1220.7 1285.5,1240.4 1291.1,1248.4 1296.7,1194.5 1302.3,1194.5 1307.9,1238.2 1313.6,1257.9 1319.2,1238.2 1324.8,1238.2 1330.4,1238.2 1336.0,1238.2 1341.6,1238.2 1347.3,1238.2 1352.9,1273.2 1358.5,1238.2 1364.1,1238.2 1369.7,1238.2 1375.3,1238.2 1380.9,1125.9 1386.6,1129.6 1392.2,989.6 1397.8,1072.7 1403.4,1268.1 1409.0,1235.3 1414.6,1111.3 1420.3,1051.6 1425.9,1027.5 1431.5,1157.3 1437.1,1158.7 1442.7,1240.4 1448.3,1088.0 1454.0,1186.4 1459.6,1175.5 1465.2,1175.5 1470.8,1178.4 1476.4,1178.4 1482.0,1177.0 1487.6,1110.6 1493.3,1166.0 1498.9,1192.3 1504.5,1192.3 1510.1,1260.8 1515.7,1281.2 1521.3,1281.2 1527.0,1265.2 1532.6,1248.4 1538.2,1219.2 1543.8,1219.2 1549.4,1213.4 1555.0,1248.4 1560.7,1200.3 1566.3,1058.1 1571.9,1146.3 1577.5,1114.3 1583.1,1208.3 1588.7,1146.3 1594.3,1086.6 1600.0,1170.4 1605.6,1146.3 1611.2,1219.2 1616.8,1211.2 1622.4,1240.4 1628.0,1139.8 1633.7,1213.4 1639.3,1227.3 1644.9,1247.7 1650.5,1107.0 1656.1,1160.9 1661.7,1160.9 1667.3,1080.0 1673.0,1055.9 1678.6,1185.0 1684.2,1202.5 1689.8,1175.5 1695.4,1273.2 1701.0,1241.8 1706.7,1175.5 1712.3,1121.6 1717.9,1148.5 1723.5,1121.6 1729.1,1159.5 1734.7,1217.8 1740.4,1159.5 1746.0,1300.2 1751.6,1159.5 1757.2,1159.5 1762.8,1202.5 1768.4,1127.4 1774.0,1088.7 1779.7,1037.7 1785.3,1275.4 1790.9,1256.4 1796.5,1273.2 1802.1,1271.7 1807.7,1185.0 1813.4,1227.3 1819.0,1211.2 1824.6,1247.7 1830.2,1194.5 1835.8,1224.3 1841.4,1173.3 1847.0,1147.8 1852.7,1173.3 1858.3,1177.0 1863.9,1142.0 1869.5,1159.5 1875.1,1241.1 1880.7,1184.2 1886.4,1100.4 1892.0,1159.5 1897.6,1135.4 1903.2,1138.3 1908.8,1148.5 1914.4,1212.7 1920.1,1058.1 1925.7,1046.5 1931.3,1120.8 1936.9,1160.9" stroke="#0C1EBE" stroke-width="3.6" marker-start="url(#mbC)" marker-mid="url(#mbC)" marker-end="url(#mbC)"/>
<polyline points="252.2,1110.8 257.8,1152.3 263.4,1107.4 269.0,1176.8 274.7,1227.8 280.3,1076.8 285.9,1204.1 291.5,1227.8 297.1,1181.0 302.7,1150.8 308.4,1089.3 314.0,1146.5 319.6,1016.6 325.2,1214.0 330.8,1208.8 336.4,1097.0 342.1,1066.8 347.7,1071.6 353.3,1086.1 358.9,1057.8 364.5,1176.8 370.1,1233.9 375.7,1219.6 381.4,1204.1 387.0,1152.7 392.6,1140.2 398.2,1115.9 403.8,1194.2 409.4,1120.5 415.1,1130.5 420.7,1140.2 426.3,1219.6 431.9,1073.8 437.5,1155.2 443.1,1130.5 448.7,1088.5 454.4,1100.9 460.0,1121.2 465.6,1154.2 471.2,1088.5 476.8,1107.4 482.4,916.7 488.1,1057.8 493.7,1066.3 499.3,1250.4 504.9,1037.6 510.5,1246.0 516.1,1192.7 521.8,1088.8 527.4,1204.1 533.0,1187.1 538.6,1071.6 544.2,1121.0 549.8,1054.2 555.4,1192.4 561.1,1120.5 566.7,1037.6 572.3,994.7 577.9,940.8 583.5,1116.2 589.1,1279.9 594.8,1064.9 600.4,1207.3 606.0,1066.8 611.6,1146.5 617.2,1089.3 622.8,1159.2 628.4,1042.8 634.1,1237.2 639.7,959.0 645.3,1234.5 650.9,1088.8 656.5,1048.0 662.1,1110.8 667.8,1223.1 673.4,1055.5 679.0,1073.8 684.6,1083.0 690.2,1057.8 695.8,1015.9 701.5,1100.9 707.1,1040.3 712.7,985.6 718.3,1245.2 723.9,1088.5 729.5,1100.0 735.1,1217.1 740.8,1107.4 746.4,1115.9 752.0,1187.1 757.6,1089.3 763.2,1050.3 768.8,1040.3 774.5,1187.6 780.1,1071.6 785.7,1025.9 791.3,1057.8 796.9,911.6 802.5,1219.6 808.2,1097.0 813.8,1097.0 819.4,964.8 825.0,1141.5 830.6,1088.8 836.2,1204.1 841.8,1205.9 847.5,1051.4 853.1,1264.6 858.7,923.3 864.3,1026.5 869.9,1026.5 875.5,932.7 881.2,1222.8 886.8,1204.1 892.4,1121.5 898.0,1192.7 903.6,1205.9 909.2,1121.0 914.8,1112.8 920.5,992.4 926.1,985.6 931.7,1057.8 937.3,1062.9 942.9,1058.7 948.5,1024.4 954.2,1088.5 959.8,1215.6 965.4,1075.7 971.0,1283.6 976.6,1253.4 982.2,1271.4 987.9,1273.8 993.5,1272.7 999.1,1213.8 1004.7,1193.2 1010.3,1141.5 1015.9,1123.6 1021.5,1165.4 1027.2,1165.4 1032.8,1208.8 1038.4,1165.4 1044.0,1100.9 1049.6,994.0 1055.2,1165.4 1060.9,1213.8 1066.5,1248.7 1072.1,980.1 1077.7,1165.4 1083.3,1165.4 1088.9,1165.4 1094.5,1165.4 1100.2,1094.5 1105.8,1165.4 1111.4,1066.3 1117.0,1067.0 1122.6,1235.5 1128.2,1223.1 1133.9,1208.8 1139.5,1178.1 1145.1,1066.3 1150.7,1117.5 1156.3,1160.9 1161.9,1100.0 1167.6,1083.0 1173.2,1116.2 1178.8,1210.2 1184.4,1177.1 1190.0,1121.0 1195.6,1111.5 1201.2,1111.5 1206.9,1111.5 1212.5,1163.9 1218.1,1213.8 1223.7,1049.3 1229.3,1130.5 1234.9,1121.2 1240.6,1058.7 1246.2,1111.5 1251.8,1111.5 1257.4,1111.5 1263.0,1213.8 1268.6,1211.6 1274.3,1208.8 1279.9,1194.2 1285.5,1219.6 1291.1,1229.0 1296.7,1163.9 1302.3,1163.9 1307.9,1213.8 1313.6,1241.1 1319.2,1213.8 1324.8,1213.8 1330.4,1213.8 1336.0,1213.8 1341.6,1213.8 1347.3,1213.8 1352.9,1259.3 1358.5,1213.8 1364.1,1213.8 1369.7,1213.8 1375.3,1213.8 1380.9,1086.1 1386.6,1094.4 1392.2,923.3 1397.8,1019.1 1403.4,1253.2 1409.0,1211.6 1414.6,1066.8 1420.3,1005.7 1425.9,977.1 1431.5,1120.6 1437.1,1124.0 1442.7,1219.6 1448.3,1048.0 1454.0,1159.2 1459.6,1146.5 1465.2,1146.5 1470.8,1148.3 1476.4,1148.3 1482.0,1146.1 1487.6,1069.3 1493.3,1132.7 1498.9,1165.4 1504.5,1165.4 1510.1,1248.7 1515.7,1271.4 1521.3,1271.4 1527.0,1249.0 1532.6,1229.0 1538.2,1193.2 1543.8,1193.2 1549.4,1187.1 1555.0,1229.0 1560.7,1174.2 1566.3,1012.5 1571.9,1115.9 1577.5,1067.0 1583.1,1180.7 1588.7,1115.9 1594.3,1045.3 1600.0,1140.2 1605.6,1115.9 1611.2,1193.2 1616.8,1187.6 1622.4,1219.6 1628.0,1104.5 1633.7,1187.1 1639.3,1204.1 1644.9,1227.8 1650.5,1065.6 1656.1,1127.7 1661.7,1127.7 1667.3,1041.7 1673.0,1001.8 1678.6,1155.2 1684.2,1177.1 1689.8,1146.5 1695.4,1259.3 1701.0,1223.1 1706.7,1146.5 1712.3,1083.0 1717.9,1112.8 1723.5,1083.0 1729.1,1129.0 1734.7,1189.4 1740.4,1129.0 1746.0,1293.5 1751.6,1129.0 1757.2,1129.0 1762.8,1177.1 1768.4,1088.5 1774.0,1038.7 1779.7,977.2 1785.3,1263.9 1790.9,1237.2 1796.5,1259.3 1802.1,1259.6 1807.7,1155.2 1813.4,1204.1 1819.0,1187.6 1824.6,1227.8 1830.2,1163.9 1835.8,1200.8 1841.4,1141.2 1847.0,1116.2 1852.7,1141.2 1858.3,1146.1 1863.9,1107.3 1869.5,1129.0 1875.1,1216.9 1880.7,1154.2 1886.4,1062.9 1892.0,1129.0 1897.6,1100.9 1903.2,1100.0 1908.8,1112.8 1914.4,1187.9 1920.1,1012.5 1925.7,997.9 1931.3,1076.9 1936.9,1127.7" stroke="#F03A08" stroke-width="3.6" marker-start="url(#mrC)" marker-mid="url(#mrC)" marker-end="url(#mrC)"/>
</g>
<text class="n" x="225.5" y="1352.3" text-anchor="end">0</text>
<text class="n" x="225.5" y="1279.2" text-anchor="end">100</text>
<text class="n" x="225.5" y="1206.0" text-anchor="end">200</text>
<text class="n" x="225.5" y="1132.9" text-anchor="end">300</text>
<text class="n" x="225.5" y="1059.7" text-anchor="end">400</text>
<text class="n" x="225.5" y="986.6" text-anchor="end">500</text>
<text class="n" x="225.5" y="913.4" text-anchor="end">600</text>
<text class="n" x="254.0" y="1407.7" text-anchor="middle">0</text>
<text class="n" x="422.2" y="1407.7" text-anchor="middle">30</text>
<text class="n" x="590.3" y="1407.7" text-anchor="middle">60</text>
<text class="n" x="758.4" y="1407.7" text-anchor="middle">90</text>
<text class="n" x="926.5" y="1407.7" text-anchor="middle">120</text>
<text class="n" x="1094.6" y="1407.7" text-anchor="middle">150</text>
<text class="n" x="1262.6" y="1407.7" text-anchor="middle">180</text>
<text class="n" x="1430.7" y="1407.7" text-anchor="middle">210</text>
<text class="n" x="1598.8" y="1407.7" text-anchor="middle">240</text>
<text class="n" x="1766.9" y="1407.7" text-anchor="middle">270</text>
<text class="n" x="1935.0" y="1407.7" text-anchor="middle">300</text>
<text class="c" transform="translate(55.5,1104.0) rotate(-90)" text-anchor="middle" y="26">交通流量数据</text>
<text class="c t" x="1067.5" y="1517.2" text-anchor="middle">不同传感器位置</text>
<text x="864.3" y="1623.0">(c)DCRNN</text>
<path d="M1092.8,900.7 H1164.7" stroke="#0000FF" stroke-width="5" stroke-linecap="round"/><circle cx="1128.9" cy="900.7" r="10.5" fill="#0000FF"/>
<path d="M1092.8,990.6 H1164.7" stroke="#F01010" stroke-width="5" stroke-linecap="round"/><circle cx="1128.9" cy="990.6" r="10.5" fill="#F01010"/>
<text class="c l" x="1177.3" y="926.5">真实值</text>
<text class="c l" x="1177.3" y="1015.5">预测值</text>
</g>
<g id="panel-d">
<path d="M2349.5,899.1 V1336.2 M2628.8,1334.6 v-14 M2908.0,1334.6 v-14 M3187.2,1334.6 v-14 M3466.5,1334.6 v-14 M3745.8,1334.6 v-14 M4025.0,1334.6 v-14" fill="none" stroke="#000" stroke-width="4.1"/>
<path d="M2347.4,1334.6 H4027.1 M2349.5,1262.3 h14.5 M2349.5,1190.0 h14.5 M2349.5,1117.7 h14.5 M2349.5,1045.3 h14.5 M2349.5,973.0 h14.5 M2349.5,900.7 h14.5" fill="none" stroke="#000" stroke-width="3.3"/>
<g clip-path="url(#cpd)" fill="none" stroke-linejoin="round">
<polyline points="2351.5,1153.1 2357.1,1189.2 2362.7,1154.5 2368.3,1213.1 2373.8,1256.5 2379.4,1129.2 2385.0,1236.2 2390.6,1256.5 2396.2,1216.0 2401.8,1190.7 2407.3,1140.8 2412.9,1184.9 2418.5,1069.2 2424.1,1242.8 2429.7,1241.3 2435.3,1146.6 2440.9,1121.3 2446.4,1124.9 2452.0,1135.7 2457.6,1109.0 2463.2,1213.1 2468.8,1258.7 2474.4,1249.3 2480.0,1236.2 2485.5,1191.4 2491.1,1179.8 2496.7,1156.0 2502.3,1229.7 2507.9,1162.5 2513.5,1171.9 2519.1,1179.8 2524.6,1249.3 2530.2,1122.0 2535.8,1194.3 2541.4,1171.9 2547.0,1137.2 2552.6,1145.1 2558.1,1161.0 2563.7,1193.6 2569.3,1137.2 2574.9,1154.5 2580.5,986.8 2586.1,1109.0 2591.7,1115.5 2597.2,1274.6 2602.8,1093.1 2608.4,1270.2 2614.0,1225.4 2619.6,1132.8 2625.2,1236.2 2630.8,1222.5 2636.3,1124.9 2641.9,1167.5 2647.5,1106.1 2653.1,1224.0 2658.7,1162.5 2664.3,1093.1 2669.8,1075.7 2675.4,1013.5 2681.0,1157.4 2686.6,1297.7 2692.2,1112.6 2697.8,1238.4 2703.4,1121.3 2708.9,1184.9 2714.5,1140.8 2720.1,1195.8 2725.7,1092.3 2731.3,1265.2 2736.9,1022.2 2742.4,1263.0 2748.0,1132.8 2753.6,1098.1 2759.2,1153.1 2764.8,1252.2 2770.4,1111.9 2776.0,1122.0 2781.5,1131.4 2787.1,1109.0 2792.7,1072.8 2798.3,1145.1 2803.9,1088.7 2809.5,1049.7 2815.1,1272.4 2820.6,1137.2 2826.2,1148.0 2831.8,1247.8 2837.4,1154.5 2843.0,1156.0 2848.6,1222.5 2854.2,1140.8 2859.7,1104.6 2865.3,1088.7 2870.9,1220.3 2876.5,1124.9 2882.1,1082.2 2887.7,1109.0 2893.2,987.5 2898.8,1249.3 2904.4,1146.6 2910.0,1146.6 2915.6,1003.4 2921.2,1181.3 2926.8,1132.8 2932.3,1236.2 2937.9,1234.8 2943.5,1103.2 2949.1,1286.9 2954.7,1000.5 2960.3,1080.8 2965.8,1080.8 2971.4,1007.7 2977.0,1255.1 2982.6,1236.2 2988.2,1165.4 2993.8,1225.4 2999.4,1234.8 3004.9,1167.5 3010.5,1158.1 3016.1,1052.6 3021.7,1049.7 3027.3,1109.0 3032.9,1110.4 3038.5,1114.0 3044.0,1085.8 3049.6,1137.2 3055.2,1239.9 3060.8,1123.4 3066.4,1300.6 3072.0,1277.5 3077.6,1289.8 3083.1,1291.2 3088.7,1292.7 3094.3,1247.1 3099.9,1228.3 3105.5,1181.3 3111.1,1164.7 3116.6,1201.5 3122.2,1201.5 3127.8,1241.3 3133.4,1201.5 3139.0,1145.1 3144.6,1055.5 3150.2,1201.5 3155.7,1247.1 3161.3,1269.5 3166.9,1046.8 3172.5,1201.5 3178.1,1201.5 3183.7,1201.5 3189.2,1201.5 3194.8,1143.0 3200.4,1201.5 3206.0,1115.5 3211.6,1119.8 3217.2,1261.6 3222.8,1252.2 3228.3,1241.3 3233.9,1210.9 3239.5,1115.5 3245.1,1163.9 3250.7,1197.2 3256.3,1148.0 3261.9,1131.4 3267.4,1157.4 3273.0,1240.6 3278.6,1211.7 3284.2,1167.5 3289.8,1156.7 3295.4,1156.7 3300.9,1156.7 3306.5,1203.7 3312.1,1247.1 3317.7,1101.0 3323.3,1171.9 3328.9,1161.0 3334.5,1114.0 3340.0,1156.7 3345.6,1156.7 3351.2,1156.7 3356.8,1247.1 3362.4,1244.2 3368.0,1241.3 3373.6,1229.7 3379.1,1249.3 3384.7,1257.2 3390.3,1203.7 3395.9,1203.7 3401.5,1247.1 3407.1,1266.6 3412.7,1247.1 3418.2,1247.1 3423.8,1247.1 3429.4,1247.1 3435.0,1247.1 3440.6,1247.1 3446.2,1281.8 3451.7,1247.1 3457.3,1247.1 3462.9,1247.1 3468.5,1247.1 3474.1,1135.7 3479.7,1139.3 3485.3,1000.5 3490.8,1082.9 3496.4,1276.7 3502.0,1244.2 3507.6,1121.3 3513.2,1062.0 3518.8,1038.1 3524.3,1166.8 3529.9,1168.3 3535.5,1249.3 3541.1,1098.1 3546.7,1195.8 3552.3,1184.9 3557.9,1184.9 3563.4,1187.8 3569.0,1187.8 3574.6,1186.4 3580.2,1120.5 3585.8,1175.5 3591.4,1201.5 3597.0,1201.5 3602.5,1269.5 3608.1,1289.8 3613.7,1289.8 3619.3,1273.9 3624.9,1257.2 3630.5,1228.3 3636.1,1228.3 3641.6,1222.5 3647.2,1257.2 3652.8,1209.5 3658.4,1068.5 3664.0,1156.0 3669.6,1124.2 3675.1,1217.4 3680.7,1156.0 3686.3,1096.7 3691.9,1179.8 3697.5,1156.0 3703.1,1228.3 3708.7,1220.3 3714.2,1249.3 3719.8,1149.5 3725.4,1222.5 3731.0,1236.2 3736.6,1256.5 3742.2,1116.9 3747.8,1170.4 3753.3,1170.4 3758.9,1090.2 3764.5,1066.3 3770.1,1194.3 3775.7,1211.7 3781.3,1184.9 3786.8,1281.8 3792.4,1250.7 3798.0,1184.9 3803.6,1131.4 3809.2,1158.1 3814.8,1131.4 3820.4,1169.0 3825.9,1226.8 3831.5,1169.0 3837.1,1308.6 3842.7,1169.0 3848.3,1169.0 3853.9,1211.7 3859.4,1137.2 3865.0,1098.8 3870.6,1048.2 3876.2,1284.0 3881.8,1265.2 3887.4,1281.8 3893.0,1280.4 3898.5,1194.3 3904.1,1236.2 3909.7,1220.3 3915.3,1256.5 3920.9,1203.7 3926.5,1233.4 3932.1,1182.7 3937.6,1157.4 3943.2,1182.7 3948.8,1186.4 3954.4,1151.6 3960.0,1169.0 3965.6,1250.0 3971.2,1193.6 3976.7,1110.4 3982.3,1169.0 3987.9,1145.1 3993.5,1148.0 3999.1,1158.1 4004.7,1221.8 4010.2,1068.5 4015.8,1056.9 4021.4,1130.7 4027.0,1170.4" stroke="#0C1EBE" stroke-width="3.6" marker-start="url(#mbC)" marker-mid="url(#mbC)" marker-end="url(#mbC)"/>
<polyline points="2351.5,1117.3 2357.1,1160.3 2362.7,1115.5 2368.3,1187.3 2373.8,1239.4 2379.4,1089.0 2385.0,1214.7 2390.6,1239.4 2396.2,1191.3 2401.8,1158.6 2407.3,1101.8 2412.9,1160.7 2418.5,1022.2 2424.1,1227.9 2429.7,1222.1 2435.3,1105.3 2440.9,1077.7 2446.4,1084.7 2452.0,1103.9 2457.6,1067.4 2463.2,1187.3 2468.8,1244.0 2474.4,1233.8 2480.0,1214.7 2485.5,1165.6 2491.1,1146.7 2496.7,1120.6 2502.3,1208.7 2507.9,1131.7 2513.5,1140.9 2519.1,1146.7 2524.6,1233.8 2530.2,1079.5 2535.8,1167.7 2541.4,1140.9 2547.0,1099.1 2552.6,1110.9 2558.1,1126.0 2563.7,1164.2 2569.3,1099.1 2574.9,1115.5 2580.5,922.4 2586.1,1067.4 2591.7,1070.2 2597.2,1261.6 2602.8,1048.5 2608.4,1259.5 2614.0,1199.3 2619.6,1094.5 2625.2,1214.7 2630.8,1201.0 2636.3,1084.7 2641.9,1137.3 2647.5,1062.6 2653.1,1201.4 2658.7,1131.7 2664.3,1048.5 2669.8,1028.8 2675.4,959.6 2681.0,1122.2 2686.6,1290.9 2692.2,1067.4 2697.8,1220.6 2703.4,1077.7 2708.9,1160.7 2714.5,1101.8 2720.1,1166.7 2725.7,1045.3 2731.3,1251.7 2736.9,965.8 2742.4,1251.2 2748.0,1094.5 2753.6,1051.7 2759.2,1117.3 2764.8,1232.9 2770.4,1069.8 2776.0,1079.5 2781.5,1091.0 2787.1,1067.4 2792.7,1020.7 2798.3,1110.9 2803.9,1039.4 2809.5,998.4 2815.1,1261.6 2820.6,1099.1 2826.2,1113.7 2831.8,1227.8 2837.4,1115.5 2843.0,1120.6 2848.6,1201.0 2854.2,1101.8 2859.7,1056.5 2865.3,1039.4 2870.9,1197.4 2876.5,1084.7 2882.1,1028.0 2887.7,1067.4 2893.2,927.5 2898.8,1233.8 2904.4,1105.3 2910.0,1105.3 2915.6,947.7 2921.2,1153.9 2926.8,1094.5 2932.3,1214.7 2937.9,1215.4 2943.5,1060.7 2949.1,1277.7 2954.7,941.9 2960.3,1034.8 2965.8,1034.8 2971.4,949.2 2977.0,1237.4 2982.6,1214.7 2988.2,1132.1 2993.8,1199.3 2999.4,1215.4 3004.9,1137.3 3010.5,1124.9 3016.1,995.9 3021.7,998.4 3027.3,1067.4 3032.9,1067.5 3038.5,1073.5 3044.0,1036.6 3049.6,1099.1 3055.2,1222.4 3060.8,1082.5 3066.4,1295.3 3072.0,1265.4 3077.6,1280.3 3083.1,1280.8 3088.7,1285.2 3094.3,1231.8 3099.9,1209.3 3105.5,1153.9 3111.1,1128.9 3116.6,1176.2 3122.2,1176.2 3127.8,1222.1 3133.4,1176.2 3139.0,1110.9 3144.6,999.8 3150.2,1176.2 3155.7,1231.8 3161.3,1257.3 3166.9,997.6 3172.5,1176.2 3178.1,1176.2 3183.7,1176.2 3189.2,1176.2 3194.8,1109.1 3200.4,1176.2 3206.0,1070.2 3211.6,1082.1 3217.2,1247.5 3222.8,1232.9 3228.3,1222.1 3233.9,1185.5 3239.5,1070.2 3245.1,1127.4 3250.7,1167.2 3256.3,1113.7 3261.9,1091.0 3267.4,1122.2 3273.0,1220.1 3278.6,1191.2 3284.2,1137.3 3289.8,1123.8 3295.4,1123.8 3300.9,1123.8 3306.5,1178.7 3312.1,1231.8 3317.7,1061.9 3323.3,1140.9 3328.9,1126.0 3334.5,1073.5 3340.0,1123.8 3345.6,1123.8 3351.2,1123.8 3356.8,1231.8 3362.4,1226.6 3368.0,1222.1 3373.6,1208.7 3379.1,1233.8 3384.7,1242.5 3390.3,1178.7 3395.9,1178.7 3401.5,1231.8 3407.1,1250.6 3412.7,1231.8 3418.2,1231.8 3423.8,1231.8 3429.4,1231.8 3435.0,1231.8 3440.6,1231.8 3446.2,1271.6 3451.7,1231.8 3457.3,1231.8 3462.9,1231.8 3468.5,1231.8 3474.1,1103.9 3479.7,1100.1 3485.3,936.1 3490.8,1036.0 3496.4,1265.2 3502.0,1226.6 3507.6,1077.7 3513.2,1011.7 3518.8,976.8 3524.3,1132.2 3529.9,1134.1 3535.5,1233.8 3541.1,1051.7 3546.7,1166.7 3552.3,1160.7 3557.9,1160.7 3563.4,1161.3 3569.0,1161.3 3574.6,1156.8 3580.2,1077.4 3585.8,1144.2 3591.4,1176.2 3597.0,1176.2 3602.5,1257.3 3608.1,1280.3 3613.7,1280.3 3619.3,1260.1 3624.9,1242.5 3630.5,1209.3 3636.1,1209.3 3641.6,1201.0 3647.2,1242.5 3652.8,1185.5 3658.4,1017.1 3664.0,1120.6 3669.6,1085.9 3675.1,1194.3 3680.7,1120.6 3686.3,1049.6 3691.9,1146.7 3697.5,1120.6 3703.1,1209.3 3708.7,1197.4 3714.2,1233.8 3719.8,1113.8 3725.4,1201.0 3731.0,1214.7 3736.6,1239.4 3742.2,1073.5 3747.8,1141.5 3753.3,1141.5 3758.9,1043.6 3764.5,1013.9 3770.1,1167.7 3775.7,1191.2 3781.3,1160.7 3786.8,1271.6 3792.4,1234.7 3798.0,1160.7 3803.6,1091.0 3809.2,1124.9 3814.8,1091.0 3820.4,1137.9 3825.9,1210.3 3831.5,1137.9 3837.1,1303.7 3842.7,1137.9 3848.3,1137.9 3853.9,1191.2 3859.4,1099.1 3865.0,1049.7 3870.6,986.8 3876.2,1274.5 3881.8,1251.7 3887.4,1271.6 3893.0,1271.4 3898.5,1167.7 3904.1,1214.7 3909.7,1197.4 3915.3,1239.4 3920.9,1178.7 3926.5,1212.7 3932.1,1149.3 3937.6,1122.2 3943.2,1149.3 3948.8,1156.8 3954.4,1117.1 3960.0,1137.9 3965.6,1231.0 3971.2,1164.2 3976.7,1067.5 3982.3,1137.9 3987.9,1110.9 3993.5,1113.7 3999.1,1124.9 4004.7,1200.3 4010.2,1017.1 4015.8,998.1 4021.4,1086.5 4027.0,1141.5" stroke="#F03A08" stroke-width="3.6" marker-start="url(#mrC)" marker-mid="url(#mrC)" marker-end="url(#mrC)"/>
</g>
<text class="n" x="2327.3" y="1358.4" text-anchor="end">0</text>
<text class="n" x="2327.3" y="1285.8" text-anchor="end">100</text>
<text class="n" x="2327.3" y="1213.2" text-anchor="end">200</text>
<text class="n" x="2327.3" y="1140.7" text-anchor="end">300</text>
<text class="n" x="2327.3" y="1068.1" text-anchor="end">400</text>
<text class="n" x="2327.3" y="995.5" text-anchor="end">500</text>
<text class="n" x="2327.3" y="922.9" text-anchor="end">600</text>
<text class="n" x="2352.4" y="1415.2" text-anchor="middle">0</text>
<text class="n" x="2520.2" y="1415.2" text-anchor="middle">30</text>
<text class="n" x="2687.1" y="1415.2" text-anchor="middle">60</text>
<text class="n" x="2853.9" y="1415.2" text-anchor="middle">90</text>
<text class="n" x="3020.8" y="1415.2" text-anchor="middle">120</text>
<text class="n" x="3187.7" y="1415.2" text-anchor="middle">150</text>
<text class="n" x="3354.5" y="1415.2" text-anchor="middle">180</text>
<text class="n" x="3521.4" y="1415.2" text-anchor="middle">210</text>
<text class="n" x="3688.3" y="1415.2" text-anchor="middle">240</text>
<text class="n" x="3855.1" y="1415.2" text-anchor="middle">270</text>
<text class="n" x="4022.0" y="1415.2" text-anchor="middle">300</text>
<text class="c" transform="translate(2159.3,1116.3) rotate(-90)" text-anchor="middle" y="26">交通流量数据</text>
<text class="c t" x="3192.1" y="1523.6" text-anchor="middle">不同传感器位置</text>
<text x="2922.4" y="1614.3">(d)Graph-wave</text>
<path d="M3189.3,907.7 H3261.5" stroke="#0000FF" stroke-width="5" stroke-linecap="round"/><circle cx="3225.4" cy="907.7" r="10.5" fill="#0000FF"/>
<path d="M3189.3,997.5 H3261.5" stroke="#F01010" stroke-width="5" stroke-linecap="round"/><circle cx="3225.4" cy="997.5" r="10.5" fill="#F01010"/>
<text class="c l" x="3273.4" y="933.5">真实值</text>
<text class="c l" x="3273.4" y="1022.4">预测值</text>
</g>
</svg></body></html>
